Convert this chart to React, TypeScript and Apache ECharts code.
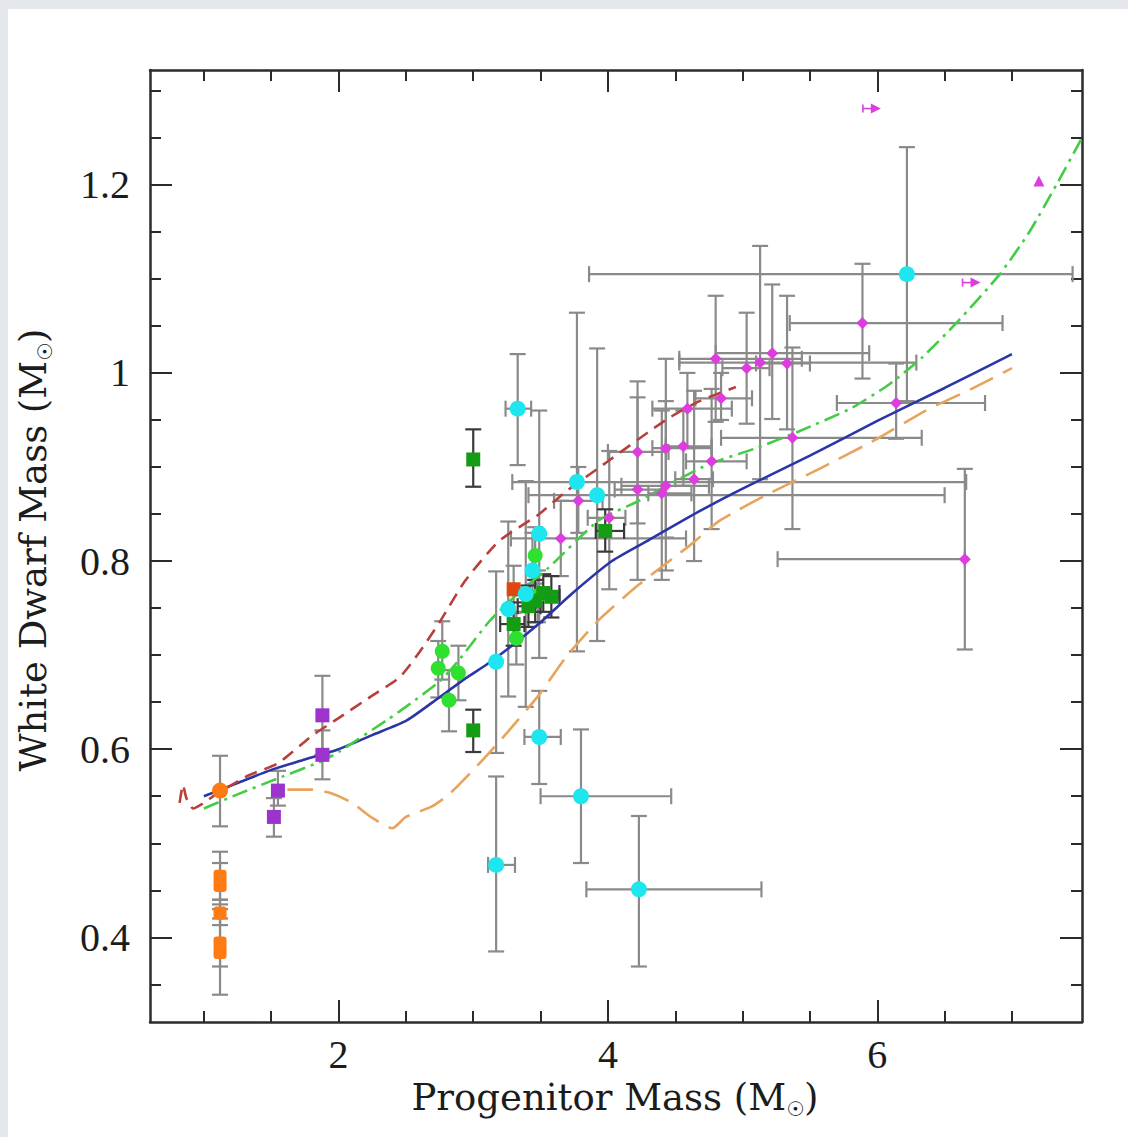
import React, { useEffect, useRef } from "react";
import * as echarts from "echarts";

// ---------- axis ticks ----------
const X_MAJOR = [2, 4, 6];
const X_MINOR = [1, 1.5, 2.5, 3, 3.5, 4.5, 5, 5.5, 6.5, 7];
const Y_MAJOR = [0.4, 0.6, 0.8, 1.0, 1.2];
const Y_MINOR = [0.35, 0.45, 0.5, 0.55, 0.65, 0.7, 0.75, 0.85, 0.9, 0.95, 1.05, 1.1, 1.15, 1.25, 1.3];
const X_RANGE = [0.6, 7.52];
const Y_RANGE = [0.31, 1.322];

// ---------- model curves [progenitor mass, WD mass] ----------
const BLUE_CURVE = [
  [1.0, 0.55], [1.25, 0.564], [1.5, 0.578], [1.75, 0.589], [2.0, 0.6], [2.25, 0.615],
  [2.5, 0.63], [2.7, 0.65], [2.94, 0.675], [3.1, 0.69], [3.26, 0.707], [3.5, 0.735],
  [3.73, 0.765], [4.03, 0.8], [4.3, 0.822], [4.68, 0.853], [5.0, 0.877], [5.5, 0.912],
  [6.0, 0.949], [6.5, 0.984], [7.0, 1.02],
];
const RED_CURVE = [
  [0.82, 0.543], [0.845, 0.562], [0.87, 0.548], [0.92, 0.537], [1.0, 0.543], [1.1, 0.553],
  [1.33, 0.572], [1.55, 0.585], [1.8, 0.614], [2.0, 0.633], [2.25, 0.657], [2.45, 0.676],
  [2.6, 0.703], [2.75, 0.735], [2.94, 0.779], [3.19, 0.821], [3.49, 0.85], [3.69, 0.874],
  [3.99, 0.905], [4.43, 0.95], [4.68, 0.97], [4.95, 0.985],
];
const GREEN_CURVE = [
  [1.0, 0.537], [1.25, 0.552], [1.55, 0.569], [1.87, 0.587], [2.0, 0.597], [2.37, 0.632],
  [2.5, 0.645], [2.75, 0.672], [2.89, 0.694], [3.12, 0.736], [3.35, 0.768], [3.56, 0.793],
  [3.93, 0.843], [4.23, 0.864], [4.5, 0.885], [4.75, 0.903], [5.1, 0.92], [5.42, 0.938],
  [5.8, 0.962], [6.09, 0.988], [6.33, 1.016], [6.6, 1.055], [6.91, 1.105], [7.13, 1.15],
  [7.33, 1.2], [7.52, 1.25],
];
const ORANGE_CURVE = [
  [1.62, 0.557], [1.8, 0.557], [1.95, 0.553], [2.1, 0.543], [2.25, 0.527], [2.4, 0.516],
  [2.5, 0.528], [2.69, 0.539], [2.82, 0.552], [3.06, 0.587], [3.26, 0.619], [3.49, 0.658],
  [3.7, 0.7], [3.93, 0.737], [4.23, 0.775], [4.62, 0.818], [4.83, 0.843], [5.2, 0.872],
  [5.57, 0.898], [6.0, 0.93], [6.36, 0.96], [6.7, 0.983], [7.0, 1.005],
];

// ---------- data points: [x, y, xLow, xHigh, yLow, yHigh] ----------
const ORANGE_CIRCLE = [[1.12, 0.556, 1.12, 1.12, 0.518, 0.593]];
const ORANGE_SQUARES = [
  [1.12, 0.465, 1.12, 1.12, 0.44, 0.491],
  [1.12, 0.455, 1.12, 1.12, 0.435, 0.479],
  [1.12, 0.426, 1.12, 1.12, 0.413, 0.44],
  [1.12, 0.394, 1.12, 1.12, 0.369, 0.42],
  [1.12, 0.384, 1.12, 1.12, 0.339, 0.43],
];
const PURPLE = [
  [1.52, 0.528, 1.52, 1.52, 0.507, 0.548],
  [1.55, 0.556, 1.55, 1.55, 0.54, 0.577],
  [1.88, 0.636, 1.88, 1.88, 0.594, 0.678],
  [1.88, 0.594, 1.88, 1.88, 0.568, 0.62],
];
const GREEN_LIGHT = [
  [2.74, 0.686, 2.74, 2.74, 0.655, 0.715],
  [2.77, 0.704, 2.77, 2.77, 0.674, 0.736],
  [2.82, 0.652, 2.82, 2.82, 0.619, 0.684],
  [2.89, 0.681, 2.89, 2.89, 0.652, 0.71],
  [3.32, 0.718, 3.32, 3.32, 0.69, 0.746],
  [3.46, 0.806, 3.46, 3.46, 0.776, 0.836],
  [3.48, 0.763, 3.48, 3.48, 0.735, 0.79],
];
const GREEN_DARK = [
  [3.0, 0.908, 3.0, 3.0, 0.879, 0.94],
  [3.0, 0.62, 3.0, 3.0, 0.597, 0.642],
  [3.3, 0.733, 3.2, 3.38, 0.71, 0.756],
  [3.41, 0.752, 3.33, 3.5, 0.73, 0.774],
  [3.46, 0.758, 3.46, 3.46, 0.735, 0.78],
  [3.52, 0.766, 3.42, 3.64, 0.746, 0.786],
  [3.58, 0.762, 3.5, 3.64, 0.74, 0.784],
  [3.98, 0.832, 3.91, 4.12, 0.81, 0.855],
];
const RED_SQUARE = [[3.3, 0.77, 3.3, 3.3, 0.745, 0.795]];
const CYAN = [
  [3.33, 0.962, 3.24, 3.43, 0.902, 1.02],
  [3.17, 0.693, 3.17, 3.17, 0.596, 0.789],
  [3.17, 0.477, 3.11, 3.31, 0.385, 0.571],
  [3.49, 0.613, 3.38, 3.65, 0.563, 0.662],
  [3.8, 0.55, 3.5, 4.47, 0.479, 0.621],
  [4.23, 0.451, 3.84, 5.14, 0.369, 0.529],
  [3.26, 0.749, 3.26, 3.26, 0.656, 0.842],
  [3.39, 0.765, 3.39, 3.39, 0.645, 0.885],
  [3.44, 0.79, 3.44, 3.44, 0.75, 0.83],
  [3.49, 0.829, 3.49, 3.49, 0.697, 0.96],
  [3.77, 0.884, 3.29, 6.66, 0.704, 1.064],
  [3.92, 0.87, 3.41, 6.5, 0.715, 1.026],
  [6.22, 1.105, 3.86, 7.45, 0.97, 1.24],
];
const MAGENTA = [
  [3.65, 0.824, 3.28, 4.58, 0.784, 0.864],
  [3.78, 0.864, 3.6, 3.96, 0.83, 0.9],
  [4.01, 0.846, 3.85, 4.13, 0.77, 0.917],
  [4.22, 0.916, 4.0, 4.45, 0.84, 0.991],
  [4.22, 0.876, 4.05, 4.4, 0.78, 0.974],
  [4.4, 0.872, 4.3, 4.62, 0.78, 0.96],
  [4.43, 0.88, 4.1, 4.75, 0.79, 0.97],
  [4.43, 0.92, 4.33, 4.77, 0.825, 1.015],
  [4.56, 0.922, 4.43, 4.77, 0.88, 0.96],
  [4.59, 0.962, 4.33, 4.92, 0.92, 1.0],
  [4.64, 0.887, 4.5, 4.78, 0.8, 0.981],
  [4.77, 0.906, 4.58, 5.03, 0.834, 0.983],
  [4.84, 0.973, 4.65, 5.07, 0.95, 1.0],
  [4.8, 1.015, 4.53, 5.44, 0.948, 1.082],
  [5.03, 1.005, 4.85, 5.2, 0.946, 1.064],
  [5.13, 1.011, 4.53, 6.29, 0.887, 1.135],
  [5.22, 1.021, 4.8, 5.94, 0.951, 1.094],
  [5.33, 1.01, 5.1, 5.5, 0.94, 1.082],
  [5.37, 0.931, 4.84, 6.33, 0.834, 1.027],
  [5.89, 1.053, 5.35, 6.93, 0.994, 1.116],
  [6.14, 0.968, 5.7, 6.8, 0.93, 1.01],
  [6.65, 0.802, 5.26, 6.65, 0.706, 0.898],
];
const MAGENTA_LIMITS = [[5.96, 1.281], [6.7, 1.096]];
const MAGENTA_TRIANGLE = [[7.2, 1.204]];

const AXIS_COLOR = "#2b2b2b";
const LABEL_FONT = "Liberation Serif";
const TITLE_FONT = "DejaVu Serif";

function errorSeries(rows: number[][], color: string, width: number) {
  return {
    type: "custom",
    xAxisIndex: 0,
    yAxisIndex: 0,
    z: 1,
    silent: true,
    clip: true,
    data: rows,
    renderItem: (_p: any, api: any) => {
      const x = api.value(0), y = api.value(1);
      const xlo = api.value(2), xhi = api.value(3), ylo = api.value(4), yhi = api.value(5);
      const style = { stroke: color, lineWidth: width };
      const cap = 8;
      const ch: any[] = [];
      if (yhi > ylo) {
        const a = api.coord([x, ylo]);
        const b = api.coord([x, yhi]);
        ch.push({ type: "line", shape: { x1: a[0], y1: a[1], x2: b[0], y2: b[1] }, style });
        ch.push({ type: "line", shape: { x1: a[0] - cap, y1: a[1], x2: a[0] + cap, y2: a[1] }, style });
        ch.push({ type: "line", shape: { x1: b[0] - cap, y1: b[1], x2: b[0] + cap, y2: b[1] }, style });
      }
      if (xhi > xlo) {
        const a = api.coord([xlo, y]);
        const b = api.coord([xhi, y]);
        ch.push({ type: "line", shape: { x1: a[0], y1: a[1], x2: b[0], y2: b[1] }, style });
        ch.push({ type: "line", shape: { x1: a[0], y1: a[1] - cap, x2: a[0], y2: a[1] + cap }, style });
        ch.push({ type: "line", shape: { x1: b[0], y1: b[1] - cap, x2: b[0], y2: b[1] + cap }, style });
      }
      return { type: "group", children: ch };
    },
  };
}

function scatter(rows: number[][], symbol: string, size: number | number[], color: string) {
  return {
    type: "scatter",
    xAxisIndex: 0,
    yAxisIndex: 0,
    z: 3,
    symbol,
    symbolSize: size,
    itemStyle: { color, opacity: 1 },
    data: rows.map((r) => [r[0], r[1]]),
  };
}

function curve(data: number[][], color: string, type: any, width: number) {
  return {
    type: "line",
    xAxisIndex: 0,
    yAxisIndex: 0,
    z: 2,
    data,
    showSymbol: false,
    symbol: "none",
    smooth: 0.2,
    silent: true,
    lineStyle: { color, width, type },
  };
}

function xAxisOf(position: string, values: number[], len: number, line: boolean, labels: boolean) {
  return {
    type: "value",
    position,
    min: X_RANGE[0],
    max: X_RANGE[1],
    splitLine: { show: false },
    axisLine: { show: line, onZero: false, lineStyle: { color: AXIS_COLOR, width: 2.5 } },
    axisTick: { show: true, inside: true, length: len, customValues: values, lineStyle: { color: AXIS_COLOR, width: 2 } },
    axisLabel: labels
      ? { show: true, customValues: values, margin: 12, fontFamily: LABEL_FONT, fontSize: 40, color: "#1c1c1c" }
      : { show: false },
  };
}
function yAxisOf(position: string, values: number[], len: number, line: boolean, labels: boolean) {
  return {
    type: "value",
    position,
    min: Y_RANGE[0],
    max: Y_RANGE[1],
    splitLine: { show: false },
    axisLine: { show: line, onZero: false, lineStyle: { color: AXIS_COLOR, width: 2.5 } },
    axisTick: { show: true, inside: true, length: len, customValues: values, lineStyle: { color: AXIS_COLOR, width: 2 } },
    axisLabel: labels
      ? { show: true, customValues: values, margin: 20, fontFamily: LABEL_FONT, fontSize: 40, color: "#1c1c1c" }
      : { show: false },
  };
}

export default function App() {
  const ref = useRef<HTMLDivElement>(null);
  useEffect(() => {
    if (!ref.current) return;
    const chart = echarts.init(ref.current, undefined, { renderer: "svg" });
    const magenta = "#dd3ddd";
    const limitSeries = {
      type: "custom",
      xAxisIndex: 0,
      yAxisIndex: 0,
      z: 3,
      silent: true,
      data: MAGENTA_LIMITS,
      renderItem: (_p: any, api: any) => {
        const c = api.coord([api.value(0), api.value(1)]);
        const st = { stroke: magenta, lineWidth: 1.6 };
        return {
          type: "group",
          children: [
            { type: "line", shape: { x1: c[0] - 9, y1: c[1] - 4, x2: c[0] - 9, y2: c[1] + 4 }, style: st },
            { type: "line", shape: { x1: c[0] - 9, y1: c[1], x2: c[0], y2: c[1] }, style: st },
            { type: "polygon", shape: { points: [[c[0] - 1, c[1] - 5], [c[0] + 9, c[1]], [c[0] - 1, c[1] + 5]] }, style: { fill: magenta } },
          ],
        };
      },
    };
    chart.setOption({
      animation: false,
      backgroundColor: "#ffffff",
      grid: { left: 142, top: 61, width: 932, height: 952, containLabel: false },
      xAxis: [
        xAxisOf("bottom", X_MAJOR, 22, true, true),
        xAxisOf("bottom", X_MINOR, 11, false, false),
        xAxisOf("top", X_MAJOR, 22, true, false),
        xAxisOf("top", X_MINOR, 11, false, false),
      ],
      yAxis: [
        yAxisOf("left", Y_MAJOR, 22, true, true),
        yAxisOf("left", Y_MINOR, 11, false, false),
        yAxisOf("right", Y_MAJOR, 22, true, false),
        yAxisOf("right", Y_MINOR, 11, false, false),
      ],
      graphic: [
        {
          type: "text",
          x: 607,
          y: 1088,
          style: {
            text: "Progenitor Mass (M{s|☉})",
            fontFamily: TITLE_FONT,
            fontSize: 37,
            lineHeight: 44,
            fill: "#1c1c1c",
            align: "center",
            verticalAlign: "middle",
            rich: { s: { fontSize: 20, lineHeight: 20, padding: [22, 0, 0, 0], verticalAlign: "bottom", fontFamily: "DejaVu Sans", fill: "#1c1c1c" } },
          },
        },
        {
          type: "text",
          x: 25,
          y: 541,
          rotation: Math.PI / 2,
          style: {
            text: "White Dwarf Mass (M{s|☉})",
            fontFamily: TITLE_FONT,
            fontSize: 37,
            lineHeight: 44,
            fill: "#1c1c1c",
            align: "center",
            verticalAlign: "middle",
            rich: { s: { fontSize: 20, lineHeight: 20, padding: [22, 0, 0, 0], verticalAlign: "bottom", fontFamily: "DejaVu Sans", fill: "#1c1c1c" } },
          },
        },
      ],
      series: [
        errorSeries([...ORANGE_CIRCLE, ...ORANGE_SQUARES, ...PURPLE, ...GREEN_LIGHT, ...RED_SQUARE, ...CYAN, ...MAGENTA], "#8a8a8a", 2.2),
        errorSeries(GREEN_DARK, "#3a3a3a", 2.2),
        curve(BLUE_CURVE, "#2a36a8", "solid", 2.6),
        curve(RED_CURVE, "#b8403a", [13, 8], 2.6),
        curve(GREEN_CURVE, "#44cc44", [16, 6, 3, 6], 2.6),
        curve(ORANGE_CURVE, "#e8a45c", [26, 11], 2.6),
        scatter(ORANGE_SQUARES, "roundRect", 13, "#ff7a12"),
        scatter(ORANGE_CIRCLE, "circle", 16, "#ff7a12"),
        scatter(PURPLE, "rect", 14, "#9b33cc"),
        scatter(GREEN_LIGHT, "circle", 15, "#30e030"),
        scatter(GREEN_DARK, "rect", 14, "#149c14"),
        scatter(RED_SQUARE, "rect", 14, "#e0470f"),
        scatter(CYAN, "circle", 16, "#1ee6ee"),
        scatter(MAGENTA, "diamond", 12, magenta),
        scatter(MAGENTA_TRIANGLE, "triangle", 11, magenta),
        limitSeries,
      ],
    });
    return () => chart.dispose();
  }, []);
  return (
    <div style={{ position: "fixed", left: 0, top: 0, right: 0, bottom: 0, background: "#e4e8ec" }}>
      <div
        ref={ref}
        style={{ position: "absolute", left: 8, top: 9, width: 1120, height: 1128, background: "#ffffff" }}
      />
    </div>
  );
}
